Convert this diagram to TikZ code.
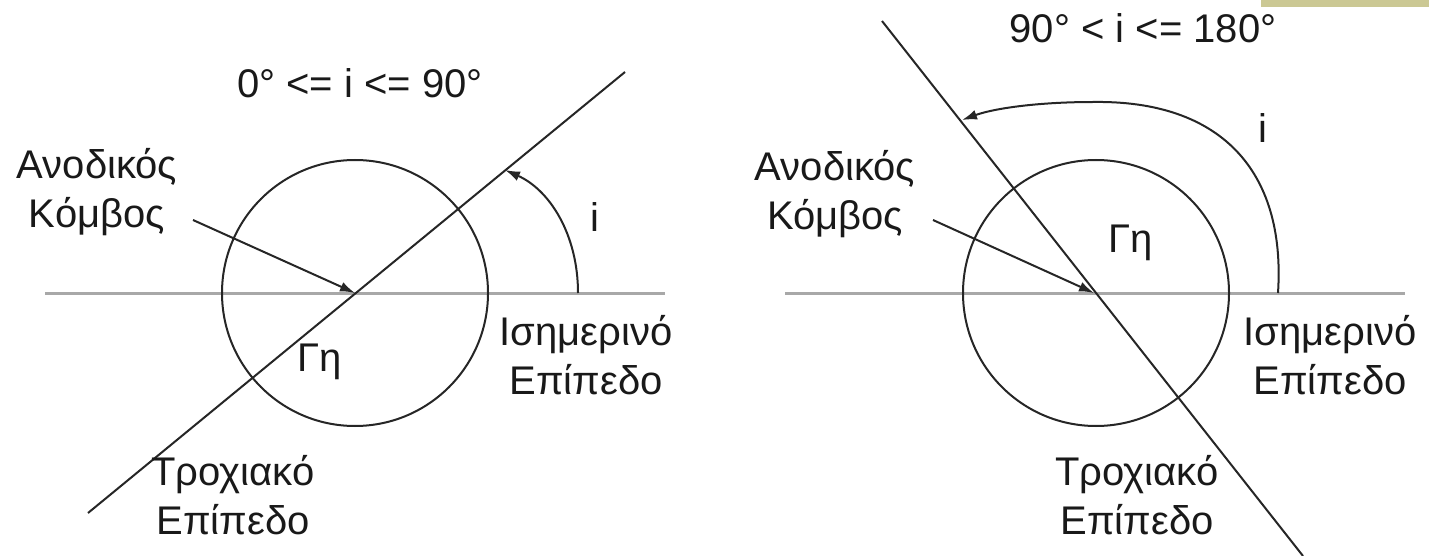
\documentclass[tikz,border=0pt]{standalone}
\usepackage{fontspec}
\setmainfont{Liberation Sans}
\usetikzlibrary{arrows.meta}
\definecolor{planegray}{HTML}{A8A8A8}
\definecolor{tabbeige}{HTML}{CBC894}
\begin{document}
\begin{tikzpicture}[x=1pt,y=-1pt,
  lbl/.style={font=\fontsize{40}{49}\selectfont, align=center, inner sep=0pt, text=black!90},
  blk/.style={line width=2pt, draw=black!85},
  plane/.style={line width=3pt, draw=planegray},
  earth/.style={line width=2pt, draw=black!85},
  tip/.style={-{Latex[length=15pt,width=10pt]}}]
\useasboundingbox (0,0) rectangle (1429,556);
\fill[tabbeige] (1261,0) rectangle (1429,7);

% ---------- left diagram ----------
\coordinate (Lnode) at (355,293);
\draw[plane] (45,293) -- (665,293);
\node[earth, circle, minimum size=266pt, inner sep=0pt] (Learth) at (Lnode) {};
\coordinate (Lo1) at (88,513);
\coordinate (Lo2) at (625,72);
\draw[blk] (Lo1) -- (Lo2);
\coordinate (Larcs) at (578,293);
\coordinate (Larce) at (505,170);
\draw[blk,tip] (Larcs) .. controls (578,235) and (550,190) .. (Larce);
\coordinate (Lka) at (193,220);
\draw[blk,tip] (Lka) -- (Lnode);
\node[lbl] (Ltitle) at (360,83) {0° <= i <= 90°};
\node[lbl] (Lkomvos) at (97,192) {Ανοδικός\\Κόμβος};
\node[lbl] (Li) at (595,217) {i};
\node[lbl] (Lgi) at (320,362) {Γη};
\node[lbl] (Liseq) at (586,355) {Ισημερινό\\Επίπεδο};
\node[lbl] (Ltroch) at (233,495) {Τροχιακό\\Επίπεδο};

% ---------- right diagram ----------
\coordinate (Rnode) at (1094,293);
\draw[plane] (785,293) -- (1405,293);
\node[earth, circle, minimum size=266pt, inner sep=0pt] (Rearth) at (1096,293) {};
\coordinate (Ro1) at (882,21);
\coordinate (Ro2) at (1303,556);
\draw[blk] (Ro1) -- (Ro2);
\coordinate (Rarcs) at (1278,293);
\coordinate (Rarcm) at (1093,102);
\coordinate (Rarce) at (962,120);
\draw[blk,tip] (Rarcs) .. controls (1286,170) and (1220,100) .. (Rarcm)
  .. controls (1040,102) and (995,108) .. (Rarce);
\coordinate (Rka) at (933,220);
\draw[blk,tip] (Rka) -- (Rnode);
\node[lbl] (Rtitle) at (1143,28) {90° < i <= 180°};
\node[lbl] (Rkomvos) at (835,194) {Ανοδικός\\Κόμβος};
\node[lbl] (Ri) at (1263,128) {i};
\node[lbl] (Rgi) at (1131,243) {Γη};
\node[lbl] (Riseq) at (1330,355) {Ισημερινό\\Επίπεδο};
\node[lbl] (Rtroch) at (1137,495) {Τροχιακό\\Επίπεδο};
\end{tikzpicture}
\end{document}
